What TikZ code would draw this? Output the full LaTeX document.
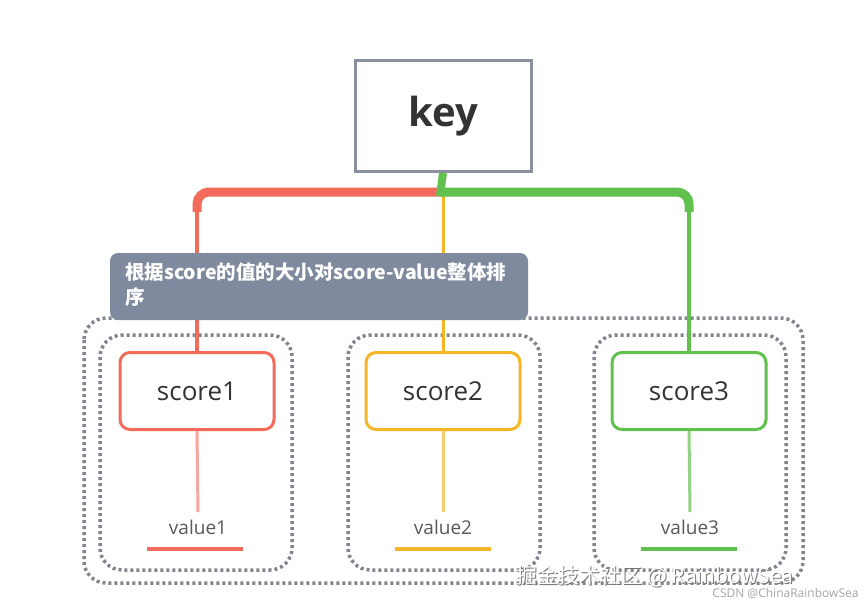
\documentclass[tikz,border=0pt]{standalone}
\usetikzlibrary{calc}
\usepackage{fontspec}
\setmainfont{Open Sans}
\newfontfamily\cjk{Noto Sans CJK SC}
\definecolor{cred}{HTML}{F26B5B}
\definecolor{cyel}{HTML}{F2B626}
\definecolor{cgrn}{HTML}{62C04F}
\definecolor{cgray}{HTML}{8A90A0}
\definecolor{cban}{HTML}{7F8A9E}
\definecolor{cdot}{HTML}{80858F}
\begin{document}
\begin{tikzpicture}[x=1pt,y=-1pt,
  scorebox/.style={draw,line width=3pt,rounded corners=10pt,fill=white,minimum width=154pt,minimum height=77pt,font=\fontsize{26}{30}\selectfont,text=black!80},
  dotbox/.style={draw=cdot,line width=3.5pt,dash pattern=on 3pt off 3pt,rounded corners=22pt},
  valtext/.style={font=\fontsize{19}{22}\selectfont,text=black!65},
  wmtext/.style={anchor=west,font=\cjk\fontsize{21}{24}\selectfont}]
\useasboundingbox[fill=white] (0,0) rectangle (867,608);
% dotted boxes
\draw[dotbox] (84,318) rectangle (803,583);
\draw[dotbox] (100,335) rectangle (292,570);
\draw[dotbox] (348,335) rectangle (540,570);
\draw[dotbox] (594,335) rectangle (786,570);
% key
\node[draw=cgray,line width=3pt,fill=white,minimum width=176pt,minimum height=111pt,font=\fontsize{40}{44}\selectfont\bfseries,text=black!80] (key) at (443,116) {key};
% scores
\node[scorebox,draw=cred] (s1) at (197,391) {score1};
\node[scorebox,draw=cyel] (s2) at (443,391) {score2};
\node[scorebox,draw=cgrn] (s3) at (689,391) {score3};
% values
\node[valtext] (v1) at (198,527) {value1};
\node[valtext] (v2) at (443,527) {value2};
\node[valtext] (v3) at (690,527) {value3};
\draw[cred,line width=3.5pt] (147,549) -- (243,549);
\draw[cyel,line width=3.5pt] (395,549) -- (491,549);
\draw[cgrn,line width=3.5pt] (641,549) -- (737,549);
\draw[cred!60,line width=3pt] (s1.south) -- ($(v1.north)+(0,-4)$);
\draw[cyel!70,line width=3pt] (s2.south) -- ($(v2.north)+(0,-4)$);
\draw[cgrn!70,line width=3pt] (s3.south) -- ($(v3.north)+(0,-4)$);
% connectors
\coordinate (j) at (key.south);
\draw[cred,line width=4.5pt] (197,205) -- (s1.north);
\draw[cred,line width=9pt,rounded corners=12pt] (442,192) -- (197,192) -- (197,212);
\draw[cyel,line width=3pt] (443,174) -- (s2.north);
\draw[cgrn,line width=4.5pt] (689,205) -- (s3.north);
\draw[cgrn,line width=9pt,rounded corners=12pt] (440,192) -- (689,192) -- (689,212);
\draw[cgrn,line width=8pt] (j) -- (440,196);
% banner
\fill[cban,rounded corners=8pt] (110,253) rectangle (528,320);
\node[anchor=north west,text=white,font=\cjk\bfseries\fontsize{19.5}{25}\selectfont,align=left,inner sep=0pt] (ban) at (125,263) {根据score的值的大小对score-value整体排\\序};
% watermarks
\node[wmtext,text=black!55] (wmb) at (514,577) {掘金技术社区 @ RainbowSea};
\node[wmtext,text=white] (wm) at (513,576) {掘金技术社区 @ RainbowSea};
\node[anchor=east,font=\fontsize{12}{14}\selectfont,text=black!35] (wm2) at (862,593) {CSDN @ChinaRainbowSea};
\end{tikzpicture}
\end{document}
